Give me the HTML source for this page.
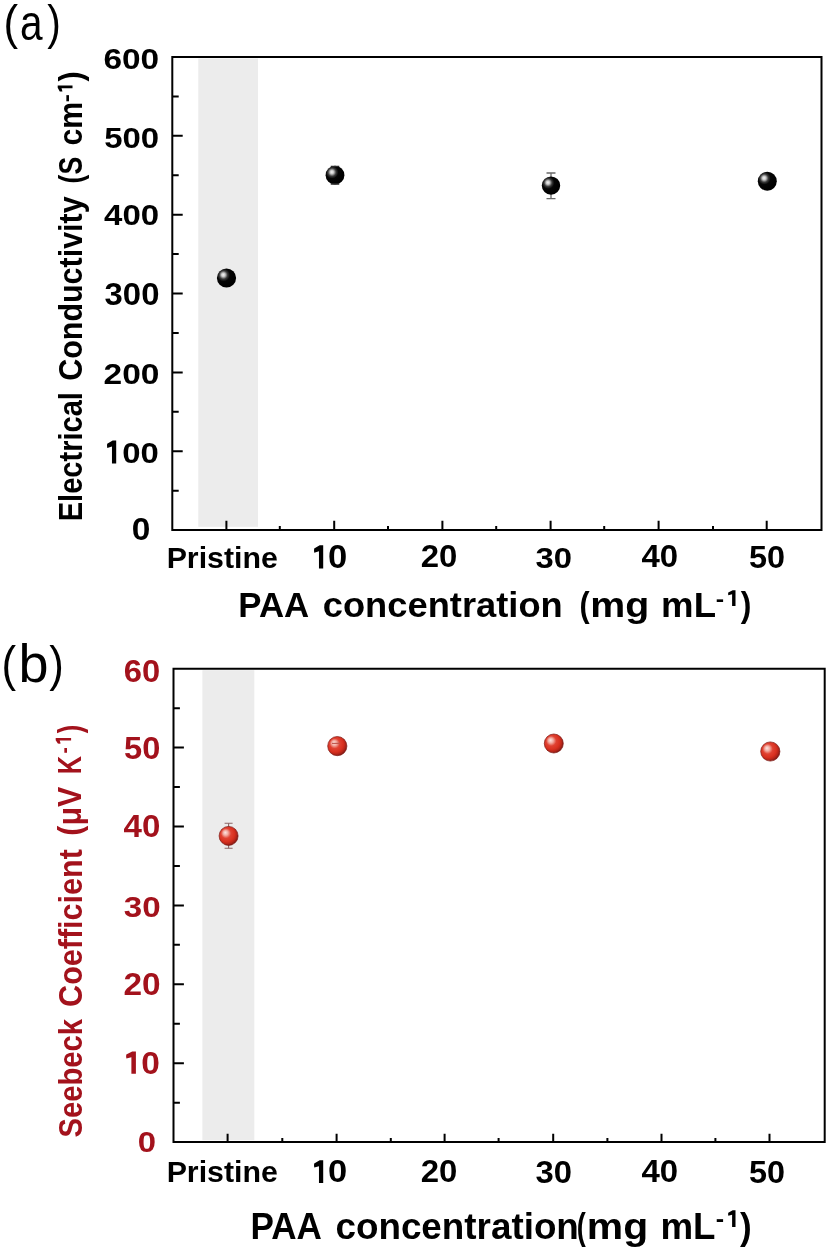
<!DOCTYPE html>
<html>
<head>
<meta charset="utf-8">
<style>
html,body{margin:0;padding:0;background:#fff;width:829px;height:1253px;overflow:hidden;}
svg{display:block;will-change:transform;}
text{font-family:"Liberation Sans",sans-serif;}
</style>
</head>
<body>
<svg width="829" height="1253" viewBox="0 0 829 1253">
<defs>
<radialGradient id="gk" cx="0.36" cy="0.36" r="0.6" fx="0.33" fy="0.33">
<stop offset="0" stop-color="#f6f6f6"/>
<stop offset="0.16" stop-color="#c8c8c8"/>
<stop offset="0.36" stop-color="#3a3a3a"/>
<stop offset="0.55" stop-color="#050505"/>
<stop offset="1" stop-color="#000"/>
</radialGradient>
<radialGradient id="gr" cx="0.42" cy="0.42" r="0.6" fx="0.32" fy="0.32">
<stop offset="0" stop-color="#fde6e2"/>
<stop offset="0.22" stop-color="#f2aaa0"/>
<stop offset="0.44" stop-color="#e04232"/>
<stop offset="0.7" stop-color="#d8301f"/>
<stop offset="0.85" stop-color="#b8261a"/>
<stop offset="1" stop-color="#801a14"/>
</radialGradient>
</defs>

<rect x="198.3" y="58.5" width="59.70" height="468.30" fill="#ececec"/>
<g stroke="#000" stroke-width="2.0" fill="none" stroke-linecap="square">
<path d="M172.3 57.0 H821.5 V530.1 H172.3 Z" stroke-linejoin="miter"/>
<path stroke-linecap="butt" d="M172.3 451.25 h10.4 M172.3 372.40 h10.4 M172.3 293.55 h10.4 M172.3 214.70 h10.4 M172.3 135.85 h10.4 M172.3 490.68 h6.4 M172.3 411.82 h6.4 M172.3 332.98 h6.4 M172.3 254.12 h6.4 M172.3 175.27 h6.4 M172.3 96.43 h6.4 M226.40 530.1 v-9.4 M334.20 530.1 v-9.4 M442.40 530.1 v-9.4 M550.60 530.1 v-9.4 M658.60 530.1 v-9.4 M766.70 530.1 v-9.4 M279.80 530.1 v-4.1 M388.00 530.1 v-4.1 M496.20 530.1 v-4.1 M604.20 530.1 v-4.1 M713.00 530.1 v-4.1"/>
</g>
<rect x="202.4" y="670.2" width="51.90" height="470.00" fill="#ececec"/>
<g stroke="#000" stroke-width="2.0" fill="none" stroke-linecap="square">
<path d="M173.5 668.7 H824.7 V1142.1 H173.5 Z" stroke-linejoin="miter"/>
<path stroke-linecap="butt" d="M173.5 1063.20 h10.4 M173.5 984.30 h10.4 M173.5 905.40 h10.4 M173.5 826.50 h10.4 M173.5 747.60 h10.4 M173.5 1102.65 h6.4 M173.5 1023.75 h6.4 M173.5 944.85 h6.4 M173.5 865.95 h6.4 M173.5 787.05 h6.4 M173.5 708.15 h6.4 M227.60 1142.1 v-8.3 M336.60 1142.1 v-8.3 M444.60 1142.1 v-8.3 M553.20 1142.1 v-8.3 M661.50 1142.1 v-8.3 M769.50 1142.1 v-8.3 M282.30 1142.1 v-4.1 M390.80 1142.1 v-4.1 M498.60 1142.1 v-4.1 M607.40 1142.1 v-4.1 M715.40 1142.1 v-4.1"/>
</g>
<text transform="translate(3.57,38.56) scale(0.9156,1)" font-size="47.81" font-weight="normal">(</text>
<text transform="translate(19.98,40.41) scale(0.8267,1)" font-size="49.09" font-weight="normal">a</text>
<text transform="translate(47.30,38.56) scale(0.8525,1)" font-size="47.81" font-weight="normal">)</text>
<text transform="translate(103.43,68.71) scale(1.1455,1)" font-size="29.15" font-weight="bold">600</text>
<text transform="translate(104.21,147.60) scale(1.1024,1)" font-size="29.86" font-weight="bold">500</text>
<text transform="translate(104.11,225.41) scale(1.1312,1)" font-size="29.15" font-weight="bold">400</text>
<text transform="translate(104.58,305.30) scale(1.0806,1)" font-size="30.42" font-weight="bold">300</text>
<text transform="translate(103.53,383.60) scale(1.1227,1)" font-size="29.86" font-weight="bold">200</text>
<polygon points="111.97,463.40 116.20,463.40 116.20,440.60 112.70,440.60 107.18,443.79 107.00,445.84 107.28,447.90 111.97,446.53" fill="#000"/>
<text transform="translate(122.28,462.70) scale(1.0819,1)" font-size="30.42" font-weight="bold">00</text>
<text transform="translate(131.66,540.48) scale(1.0424,1)" font-size="32.11" font-weight="bold">0</text>
<text transform="translate(166.63,567.90) scale(1.0049,1)" font-size="30.20" font-weight="bold">Pristine</text>
<polygon points="318.97,568.50 323.20,568.50 323.20,545.30 319.70,545.30 314.18,548.55 314.00,550.64 314.28,552.72 318.97,551.33" fill="#000"/>
<text transform="translate(328.02,567.97) scale(1.0566,1)" font-size="32.68" font-weight="bold">0</text>
<text transform="translate(420.75,566.79) scale(1.0490,1)" font-size="31.41" font-weight="bold">20</text>
<text transform="translate(535.58,568.30) scale(1.0789,1)" font-size="30.42" font-weight="bold">30</text>
<text transform="translate(641.41,566.79) scale(1.0502,1)" font-size="31.41" font-weight="bold">40</text>
<text transform="translate(749.03,568.29) scale(1.0317,1)" font-size="31.41" font-weight="bold">50</text>
<text transform="translate(238.34,617.40) scale(0.9723,1)" font-size="35.80" font-weight="bold">PAA</text>
<text transform="translate(322.75,617.40) scale(1.0143,1)" font-size="35.80" font-weight="bold">concentration</text>
<text transform="translate(579.48,617.40) scale(0.8480,1)" font-size="35.80" font-weight="bold">(</text>
<text transform="translate(590.34,617.40) scale(1.0990,1)" font-size="35.80" font-weight="bold">mg</text>
<text transform="translate(661.12,617.40) scale(1.0219,1)" font-size="35.80" font-weight="bold">mL</text>
<text transform="translate(715.70,605.90) scale(1.1105,1)" font-size="22.60" font-weight="bold">-</text>
<polygon points="732.10,605.90 735.50,605.90 735.50,590.30 732.69,590.30 728.25,592.48 728.10,593.89 728.32,595.29 732.10,594.36" fill="#000"/>
<text transform="translate(740.80,617.40) scale(0.8919,1)" font-size="35.80" font-weight="bold">)</text>
<text transform="translate(82.10,519.40) rotate(-90) translate(-1.89,0) scale(0.8727,1)" font-size="33.30" font-weight="bold">Electrical</text>
<text transform="translate(82.10,379.60) rotate(-90) translate(-1.22,0) scale(0.9149,1)" font-size="33.30" font-weight="bold">Conductivity</text>
<text transform="translate(82.10,182.10) rotate(-90) translate(-1.33,0) scale(0.8008,1)" font-size="33.30" font-weight="bold">(S</text>
<text transform="translate(82.10,144.30) rotate(-90) translate(-1.21,0) scale(0.9087,1)" font-size="33.30" font-weight="bold">cm</text>
<text transform="translate(72.50,101.20) rotate(-90) translate(-0.97,0) scale(1.1309,1)" font-size="21.50" font-weight="bold">-</text>
<polygon points="72.50,88.25 72.50,85.40 57.70,85.40 57.70,87.76 59.77,91.48 61.10,91.60 62.44,91.41 61.55,88.25" fill="#000"/>
<text transform="translate(82.10,81.60) rotate(-90) translate(-0.00,0) scale(0.9167,1)" font-size="33.30" font-weight="bold">)</text>
<text transform="translate(1.57,680.98) scale(0.8821,1)" font-size="49.63" font-weight="normal">(</text>
<text transform="translate(18.49,682.36) scale(1.0074,1)" font-size="53.61" font-weight="normal">b</text>
<text transform="translate(49.18,680.98) scale(0.8821,1)" font-size="49.63" font-weight="normal">)</text>
<text transform="translate(123.85,681.68) scale(1.0382,1)" font-size="31.55" font-weight="bold" fill="#a3121c">60</text>
<text transform="translate(124.02,759.49) scale(1.0520,1)" font-size="30.99" font-weight="bold" fill="#a3121c">50</text>
<text transform="translate(123.50,837.29) scale(1.0725,1)" font-size="30.85" font-weight="bold" fill="#a3121c">40</text>
<text transform="translate(123.77,916.60) scale(1.1037,1)" font-size="30.00" font-weight="bold" fill="#a3121c">30</text>
<text transform="translate(123.43,995.49) scale(1.0838,1)" font-size="30.85" font-weight="bold" fill="#a3121c">20</text>
<polygon points="131.39,1073.70 135.90,1073.70 135.90,1051.50 132.18,1051.50 126.30,1054.61 126.10,1056.61 126.39,1058.60 131.39,1057.27" fill="#a3121c"/>
<text transform="translate(141.26,1073.69) scale(1.0803,1)" font-size="30.99" font-weight="bold" fill="#a3121c">0</text>
<text transform="translate(137.79,1152.30) scale(1.0999,1)" font-size="29.86" font-weight="bold" fill="#a3121c">0</text>
<text transform="translate(166.63,1182.30) scale(1.0186,1)" font-size="29.80" font-weight="bold">Pristine</text>
<polygon points="318.97,1183.00 323.20,1183.00 323.20,1160.20 319.70,1160.20 314.18,1163.39 314.00,1165.44 314.28,1167.50 318.97,1166.13" fill="#000"/>
<text transform="translate(328.02,1182.48) scale(1.0752,1)" font-size="32.11" font-weight="bold">0</text>
<text transform="translate(420.75,1181.99) scale(1.0490,1)" font-size="31.41" font-weight="bold">20</text>
<text transform="translate(535.58,1182.89) scale(1.0739,1)" font-size="30.56" font-weight="bold">30</text>
<text transform="translate(641.41,1181.99) scale(1.0502,1)" font-size="31.41" font-weight="bold">40</text>
<text transform="translate(749.03,1182.89) scale(1.0602,1)" font-size="30.56" font-weight="bold">50</text>
<text transform="translate(250.42,1238.50) scale(0.9700,1)" font-size="36.20" font-weight="bold">PAA</text>
<text transform="translate(335.43,1238.50) scale(1.0176,1)" font-size="36.20" font-weight="bold">concentration</text>
<text transform="translate(576.64,1238.50) scale(0.7498,1)" font-size="36.20" font-weight="bold">(</text>
<text transform="translate(586.84,1238.50) scale(1.1312,1)" font-size="36.20" font-weight="bold">mg</text>
<text transform="translate(660.41,1238.50) scale(1.0145,1)" font-size="36.20" font-weight="bold">mL</text>
<text transform="translate(715.70,1227.10) scale(1.0328,1)" font-size="24.30" font-weight="bold">-</text>
<polygon points="732.10,1227.10 735.50,1227.10 735.50,1210.30 732.69,1210.30 728.25,1212.65 728.10,1214.16 728.32,1215.68 732.10,1214.67" fill="#000"/>
<text transform="translate(740.00,1238.50) scale(0.9693,1)" font-size="36.20" font-weight="bold">)</text>
<text transform="translate(81.50,1136.70) rotate(-90) translate(-0.88,0) scale(0.8700,1)" font-size="33.60" font-weight="bold" fill="#a3121c">Seebeck</text>
<text transform="translate(81.50,1005.70) rotate(-90) translate(-1.22,0) scale(0.9089,1)" font-size="33.60" font-weight="bold" fill="#a3121c">Coefficient</text>
<text transform="translate(81.00,834.20) rotate(-90) translate(-1.52,0) scale(0.9072,1)" font-size="33.60" font-weight="bold" fill="#a3121c">(μV</text>
<text transform="translate(81.00,772.50) rotate(-90) translate(-1.64,0) scale(0.7521,1)" font-size="33.60" font-weight="bold" fill="#a3121c">K</text>
<text transform="translate(71.10,752.80) rotate(-90) translate(-0.75,0) scale(0.8556,1)" font-size="22.00" font-weight="bold" fill="#a3121c">-</text>
<polygon points="71.10,740.62 71.10,738.00 55.70,738.00 55.70,740.17 57.86,743.59 59.24,743.70 60.63,743.53 59.70,740.62" fill="#a3121c"/>
<text transform="translate(81.00,733.20) rotate(-90) translate(-0.00,0) scale(0.7519,1)" font-size="33.60" font-weight="bold" fill="#a3121c">)</text>
<path d="M551.0 173.0 V198.6" stroke="#6a6a6a" stroke-width="1.3" fill="none"/>
<path d="M335.0 166.4 V184.0" stroke="#2a2a2a" stroke-width="1.4" fill="none"/>
<path d="M228.6 823.2 V848.3" stroke="#8a6666" stroke-width="1.1" fill="none"/>
<path d="M336.0 743.4 V743.4" stroke="#c0564c" stroke-width="0.9" fill="none"/>
<circle cx="226.5" cy="278.0" r="9.6" fill="url(#gk)"/>
<circle cx="335.0" cy="175.2" r="9.4" fill="url(#gk)"/>
<circle cx="551.0" cy="185.6" r="9.2" fill="url(#gk)"/>
<circle cx="767.3" cy="181.2" r="9.5" fill="url(#gk)"/>
<circle cx="228.6" cy="835.9" r="9.5" fill="url(#gr)" stroke="#7e1a16" stroke-width="0.7"/>
<circle cx="337.3" cy="746.1" r="9.6" fill="url(#gr)" stroke="#7e1a16" stroke-width="0.7"/>
<circle cx="553.8" cy="743.5" r="9.5" fill="url(#gr)" stroke="#7e1a16" stroke-width="0.7"/>
<circle cx="770.3" cy="751.5" r="9.6" fill="url(#gr)" stroke="#7e1a16" stroke-width="0.7"/>
<path d="M546.5 173.0 h9.0 M546.5 198.6 h9.0" stroke="#6a6a6a" stroke-width="1.3" fill="none"/>
<path d="M330.75 166.4 h8.5 M330.75 184.0 h8.5" stroke="#2a2a2a" stroke-width="1.4" fill="none"/>
<path d="M224.6 823.2 h8.0 M224.6 848.3 h8.0" stroke="#8a6666" stroke-width="1.1" fill="none"/>
<path d="M332.0 743.4 h8.0 M332.0 743.4 h8.0" stroke="#c0564c" stroke-width="0.9" fill="none"/>
</svg>
</body>
</html>
